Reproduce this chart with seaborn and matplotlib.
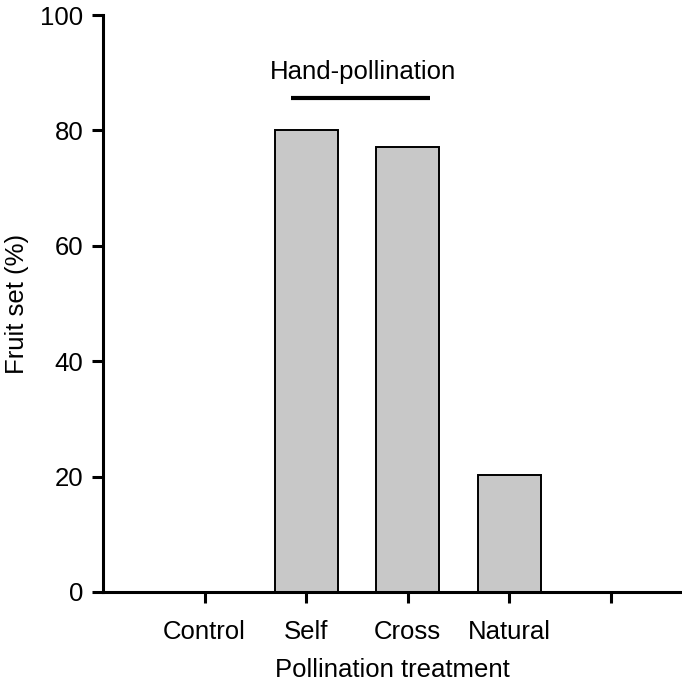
import matplotlib
matplotlib.use("Agg")
import matplotlib.pyplot as plt
import seaborn as sns
import pandas as pd

# data
treatments = ["Control", "Self", "Cross", "Natural"]
fruit_set = [0, 80, 77.2, 20.2]
tick_labels = ["Control", "Self", "Cross", "Natural", ""]
yticks = [0, 20, 40, 60, 80, 100]

sns.set_style("ticks", {"axes.edgecolor": "black", "text.color": "black",
                        "xtick.color": "black", "ytick.color": "black",
                        "axes.labelcolor": "black"})
plt.rcParams['font.family'] = ['Liberation Sans', 'DejaVu Sans']

df = pd.DataFrame({"treatment": treatments, "fruit_set": fruit_set})

fig = plt.figure(figsize=(6.82, 6.89), dpi=100)
ax = fig.add_axes([0.151, 0.141, 0.849, 0.837])

sns.barplot(data=df, x="treatment", y="fruit_set", order=treatments,
            color="#c8c8c8", saturation=1, width=0.62,
            edgecolor="black", linewidth=1.4, ax=ax)

fs = 18.5
ax.set_xlim(-1, 4.7)
ax.set_ylim(0, 100)
ax.set_xticks(range(len(tick_labels)))
ax.set_xticklabels(tick_labels, fontsize=fs)
ax.set_yticks(yticks)
ax.set_yticklabels([str(v) for v in yticks], fontsize=fs)
ax.tick_params(axis="both", width=2.2, length=8, direction="out", pad=6)
ax.tick_params(axis="x", pad=12)

for s in ["top", "right"]:
    ax.spines[s].set_visible(False)
for s in ["left", "bottom"]:
    ax.spines[s].set_linewidth(2.2)

ax.set_xlabel("Pollination treatment", fontsize=fs, labelpad=10)
ax.set_ylabel("Fruit set (%)", fontsize=fs, labelpad=8)

# hand-pollination bracket
ax.plot([0.85, 2.22], [85.7, 85.7], color="black", linewidth=3,
        solid_capstyle="butt", clip_on=False)
ax.text(1.56, 90.2, "Hand-pollination", ha="center", va="center", fontsize=fs)

fig.savefig("out.png", dpi=100)
